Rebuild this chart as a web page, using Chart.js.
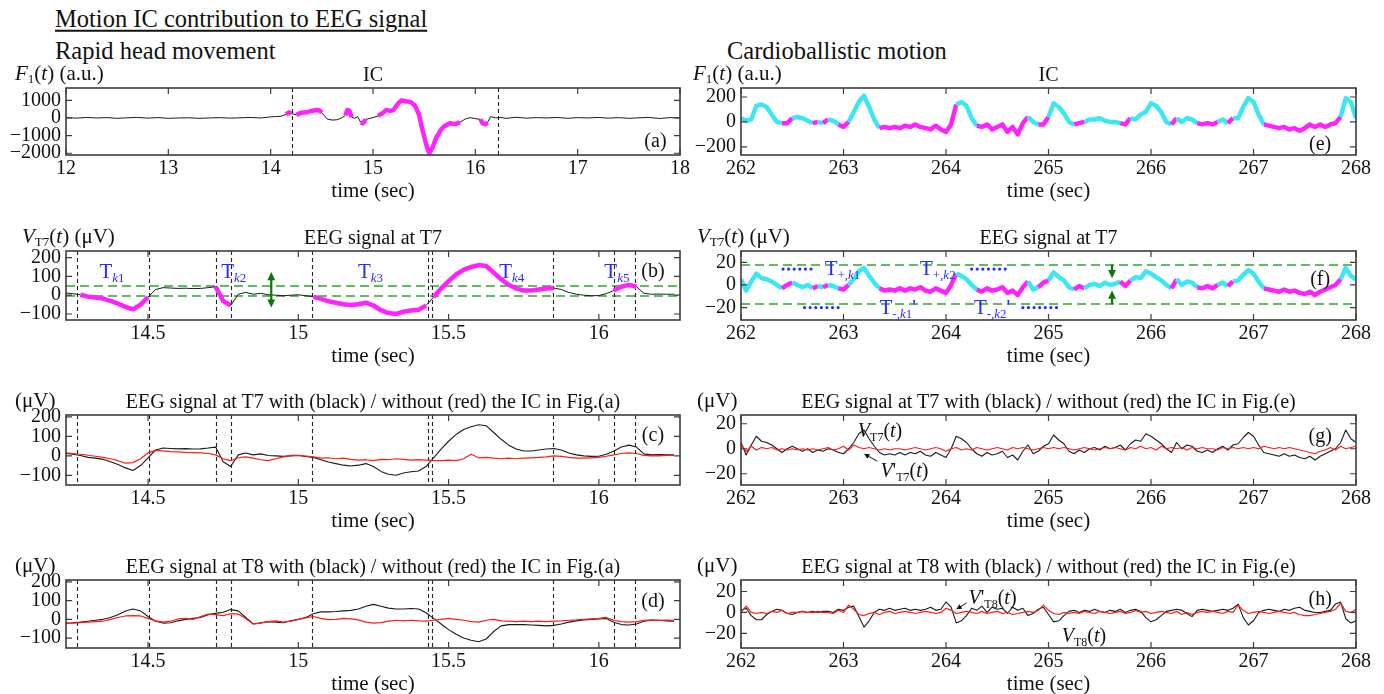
<!DOCTYPE html>
<html>
<head>
<meta charset="utf-8">
<script src="https://cdn.jsdelivr.net/npm/chart.js@4"></script>
<style>
  body { margin: 0; background: #fff; }
  #fig { position: relative; width: 1384px; height: 694px; overflow: hidden; font-family: 'Liberation Serif', 'Times New Roman', serif; color: #111; }
  .lbl { position: absolute; white-space: nowrap; line-height: 1; }
  .lbl sub { font-size: 0.62em; vertical-align: -0.3em; line-height: 0; }
  canvas { position: absolute; }
</style>
</head>
<body>
<div id="fig"></div>
<script>
// ---------- data: rapid head movement (left column) ----------
const xTicksA = [12, 13, 14, 15, 16, 17, 18];
const yTicksA = [-2000, -1000, 0, 1000];
// IC time course F1(t), panel (a)
const tA = [12.0, 12.1, 12.2, 12.3, 12.4, 12.5, 12.6, 12.7, 12.8, 12.9, 13.0, 13.1, 13.2, 13.3, 13.4, 13.5, 13.6, 13.7, 13.8, 13.9, 14.0,
  14.05, 14.1, 14.15, 14.18, 14.2, 14.25, 14.3, 14.35, 14.4, 14.45, 14.48, 14.5, 14.55, 14.6, 14.65, 14.7, 14.73, 14.75, 14.77, 14.79,
  14.82, 14.85, 14.88, 14.9, 14.93, 15.0, 15.05, 15.1, 15.13, 15.17, 15.2, 15.25, 15.28, 15.32, 15.37, 15.41, 15.45, 15.48, 15.52,
  15.55, 15.58, 15.62, 15.66, 15.7, 15.75, 15.8, 15.85, 15.9, 15.95, 16.0, 16.05, 16.07, 16.1, 16.12, 16.15, 16.2, 16.25,
  16.3, 16.4, 16.5, 16.6, 16.7, 16.8, 16.9, 17.0, 17.1, 17.2, 17.3, 17.4, 17.5, 17.6, 17.7, 17.8, 17.9, 18.0];
const icA = [20, -10, 30, 0, 20, -20, 10, 30, -10, 20, -20, 0, 10, -20, 0, 20, -10, 10, 30, 0, 60,
  80, 100, 200, 320, 250, 180, 300, 320, 400, 450, 420, 300, -50, -120, -100, 20, 150, 450, 400, 50,
  -20, 80, -250, -300, -80, 20, 120, 300, 450, 400, 450, 850, 1000, 950, 900, 700, 200, -600, -1500,
  -2000, -1700, -1100, -700, -450, -300, -350, -250, -60, 20, -40, -80, -300, -350, -250, 80, 0, 30,
  -20, 40, -10, 20, 0, 30, -20, 20, 0, 30, -10, 20, -20, 10, 30, -30, 20, 0];
const icAMarked = [[14.15, 14.2], [14.27, 14.515], [14.72, 14.79], [14.87, 14.92], [15.055, 15.43], [15.45, 15.86], [16.05, 16.12]];
const icAWindow = [14.21, 16.22];

// zoomed window, sampled every 0.025 s from 14.225 s
const winRange = [14.227, 16.27];
const win0 = 14.225, winStep = 0.025;
const xTicksWin = [14.5, 15, 15.5, 16];
const yTicksWin = [-100, 0, 100, 200];
const tkBounds = [14.264, 14.503, 14.726, 14.776, 15.045, 15.431, 15.444, 15.846, 16.049, 16.119];
const vT7 = [12, 8, 2, -8, -12, -18, -30, -45, -62, -75, -50, -10, 30, 40, 38, 36, 37, 35, 36, 40,
  45, -30, -55, 5, 15, 5, 10, 2, 0, -3, 0, 2, -3, -8, -20, -32, -40, -48, -52, -48,
  -40, -55, -80, -95, -100, -88, -82, -78, -55, -10, 35, 75, 110, 135, 150, 160, 155, 120, 85, 55,
  35, 25, 25, 30, 35, 38, 30, 15, 5, 0, -3, -2, 8, 25, 45, 55, 45, 10, 5, 6, 5, 5];
const vT7Clean = [15, 12, 8, 3, -2, -8, -15, -25, -38, -35, -15, 15, 28, 25, 22, 20, 18, 17, 15, 12,
  5, -15, -25, -10, -5, -12, -20, -25, -15, -5, 2, 3, -2, -5, -12, -10, -15, -12, -18, -22,
  -20, -25, -18, -20, -15, -18, -22, -20, -22, -25, -25, -22, -25, -15, 8, -10, -8, -12, -15, -12,
  -15, -12, -10, -8, -5, 0, -3, -8, -12, -12, -10, -8, -2, 5, 12, 15, 12, 2, 0, 0, 2, 3];
const vT8 = [-20, -18, -15, -10, -5, 0, 10, 25, 45, 55, 45, 15, -10, -20, -18, -8, 0, 5, 10, 25,
  32, 38, 52, 45, 10, -25, -18, -12, -15, -18, -8, 0, 10, 30, 40, 40, 42, 45, 48, 55,
  70, 80, 70, 60, 55, 55, 58, 55, 35, 5, -25, -55, -80, -100, -112, -120, -105, -65, -35, -28,
  -28, -28, -30, -32, -35, -32, -25, -15, -8, -3, 0, 2, 5, -15, -28, -30, -25, -10, -5, -5, -8, -10];
const vT8Clean = [-22, -20, -18, -15, -12, -10, 0, 10, 18, 20, 18, 5, -8, -15, -10, 2, 5, 0, 15, 28,
  25, 20, 30, 28, 5, -25, -20, -12, -8, -15, -10, 0, 8, 15, 5, -2, 0, 5, 2, -3,
  -15, -20, -18, -10, -5, -8, -5, -8, -10, -5, 0, 5, 0, -5, -12, -15, -5, 0, -8, -10,
  -12, -10, -12, -10, -12, -10, -8, -5, -3, 0, 2, 5, 10, -5, -12, -15, -12, -5, -3, -5, -4, -5];

// ---------- data: cardioballistic motion (right column), 262-268 s every 0.05 s ----------
const card0 = 262, cardStep = 0.05;
const xTicksCard = [262, 263, 264, 265, 266, 267, 268];
const icE = [30, 10, 20, 130, 140, 120, 60, 0, -10, -10, 30, 40, 30, 10, -10, 0, -10, 20, 10, -20,
  -40, 0, 80, 160, 210, 120, 20, -50, -40, -50, -40, -50, -30, -40, -20, -40, -50, -60, -30, -60,
  -80, -20, 140, 160, 130, 30, -30, -40, -20, -60, -40, -20, -80, -40, -100, -10, 40, 0, -20, -20,
  40, 150, 120, 70, 0, -20, -10, 0, 20, 20, 30, 10, 0, 0, -10, -20, 30, 20, 60, 80,
  150, 130, 80, 0, -20, 30, 0, 30, 20, -10, -20, -10, -20, 0, 20, -10, 30, 30, 120, 190,
  160, 60, -20, -30, -40, -50, -40, -60, -50, -70, -50, -20, -40, -20, -40, -20, -10, 40, 190, 160,
  30];
const cT7 = [5, -5, 3, 10, 6, 5, 3, 0, -3, 0, 2, 0, -2, 0, -3, -1, -2, 0, -1, -3,
  -4, 0, 5, 12, 15, 8, 2, -3, -5, -4, -5, -3, -5, -3, -4, -2, -5, -6, -3, -5,
  -7, 0, 10, 8, 5, 0, -4, -6, -3, -5, -4, -2, -7, -5, -9, -2, 3, -4, -2, 2,
  4, 11, 7, 4, -2, -4, -1, -3, 0, 1, -1, 2, 0, 1, 3, -1, 4, 7, 6, 12,
  10, 7, 4, 0, -3, 5, 0, 3, 2, -2, -3, -1, -3, 0, 2, -1, 3, 4, 9, 13,
  10, 3, -3, -4, -5, -6, -4, -6, -5, -7, -8, -6, -9, -6, -4, -2, 0, 5, 15, 8,
  5];
const cT7Clean = [3, -2, 2, -1, 1, 0, 1, -1, 0, -1, 0, -1, 0, -1, 0, -1, 0, 1, -1, 0,
  2, -1, 3, 1, 0, 1, 0, -1, 0, -1, 0, 0, -1, 0, 1, 0, -1, 0, 1, 0,
  -2, 0, 1, -1, 0, -1, 1, 0, -1, 0, 1, 0, -1, 1, 0, 1, 0, -1, 0, 1,
  0, 1, 0, 1, 0, -1, 0, 1, 0, -1, 0, 1, 0, 1, 0, -1, 1, 0, 2, 0,
  1, -1, 2, 0, 1, 0, 1, -1, 1, 0, 1, 0, 0, -1, 1, 0, 1, 0, 1, 0,
  1, 0, 2, 1, 0, 1, 0, 1, 0, -1, -2, -3, -4, -2, -1, 1, -1, 2, 0, 1,
  2];
const cT8 = [2, 4, -3, -7, -7, -2, 1, 3, 2, -1, -2, 0, 1, 0, 1, 0, 1, 1, 0, 3,
  2, 5, 6, -4, -14, -8, 0, 3, 2, 4, 2, 3, 4, 2, 3, 2, 3, 5, 2, 3,
  10, 5, -10, -8, -3, 4, 2, 6, 0, 5, 3, 4, -1, 5, 2, 4, -3, -1, 3, 5,
  -2, -9, -8, -3, 1, 2, 0, 2, 1, 3, 1, 0, 2, 1, 3, 0, 2, 3, 1, -5,
  -9, -7, -3, 1, 2, 3, 2, -1, -4, 2, 3, 2, 1, 2, 3, 2, 4, 8, -5, -12,
  -8, 0, 2, 3, 2, 1, 3, 2, 4, 5, 2, 1, 0, 0, 1, 2, 8, 10, -6, -10,
  -8];
const cT8Clean = [0, 6, 0, -1, 0, -1, 1, 0, 2, -1, 0, 0, 1, 0, 0, 1, 0, 0, -1, 2,
  0, 7, 3, -2, -3, -1, 0, -2, 0, 1, -1, 0, 1, 0, -1, 0, 1, 0, -1, 0,
  4, 2, -1, 0, 1, 0, -1, 1, -1, 0, 1, -1, 0, -2, -1, 0, 1, 0, 2, 7,
  2, -1, -2, 0, -1, 0, -1, 1, 0, -1, 1, 0, -1, 0, 1, -1, 0, 2, 0, 1,
  -1, 0, 1, 0, -1, 1, -2, 0, -2, 0, 1, 0, 1, 0, -1, 1, 0, 7, 2, -1,
  0, 1, 0, -1, 0, 1, 0, -1, 0, -2, -3, -3, -2, -1, 0, 1, 3, 9, 1, 0,
  3];

// ---------- styling ----------
const FONT = "'Liberation Serif', 'Times New Roman', serif";
const MAG = '#ff22ff', CYAN = '#3de6f3', BLACK = '#1a1a1a', RED = '#ff1a1a';
const GREEN = '#2aa82a', DKGREEN = '#0b760b', BLUE = '#2a2aff';
const PADL = 80, PADR = 20, PADT = 10, PADB = 42;
const TICK = 20;
const fig = document.getElementById('fig');

const fmt = v => (v < 0 ? '\u2212' + (-v) : String(v));
const xy = (ts, vs) => vs.map((v, i) => ({ x: ts[i], y: v }));
const grid = (t0, dt, vs) => vs.map((v, i) => ({ x: +(t0 + i * dt).toFixed(3), y: v }));
const inside = (t, wins) => wins.some(w => t >= w[0] && t <= w[1]);
const mid = ctx => (ctx.p0.parsed.x + ctx.p1.parsed.x) / 2;
const pairs = b => b.reduce((acc, v, i) => (i % 2 ? acc[acc.length - 1].push(v) : acc.push([v]), acc), []);
const tkWins = pairs(tkBounds);

function label(html, x, y, size, align) {
  const d = document.createElement('div');
  d.className = 'lbl';
  d.innerHTML = html;
  d.style.left = x + 'px';
  d.style.top = y + 'px';
  d.style.fontSize = size + 'px';
  d.style.transform = 'translate(' + (align === 'center' ? '-50%' : '0') + ', -50%)';
  fig.appendChild(d);
}

function rich(ctx, x, y, parts, size, color, align) {
  const fnt = s => (s.includes('i') ? 'italic ' : '') + (s.includes('s') ? Math.round(size * 0.62) : size) + 'px ' + FONT;
  let w = 0;
  parts.forEach(([t, s]) => { ctx.font = fnt(s); w += ctx.measureText(t).width; });
  let cx = align === 'center' ? x - w / 2 : align === 'right' ? x - w : x;
  ctx.fillStyle = color;
  ctx.textAlign = 'left';
  ctx.textBaseline = 'alphabetic';
  const base = y + size * 0.34;
  parts.forEach(([t, s]) => {
    ctx.font = fnt(s);
    ctx.fillText(t, cx, s.includes('s') ? base + size * 0.2 : base);
    cx += ctx.measureText(t).width;
  });
}

function arrow(ctx, x1, y1, x2, y2, color, lw, head) {
  const a = Math.atan2(y2 - y1, x2 - x1);
  ctx.strokeStyle = color; ctx.fillStyle = color; ctx.lineWidth = lw; ctx.setLineDash([]);
  ctx.beginPath(); ctx.moveTo(x1, y1); ctx.lineTo(x2 - Math.cos(a) * head * 0.6, y2 - Math.sin(a) * head * 0.6); ctx.stroke();
  ctx.beginPath();
  ctx.moveTo(x2, y2);
  ctx.lineTo(x2 - head * Math.cos(a - 0.45), y2 - head * Math.sin(a - 0.45));
  ctx.lineTo(x2 - head * Math.cos(a + 0.45), y2 - head * Math.sin(a + 0.45));
  ctx.closePath(); ctx.fill();
}

// frame, inward ticks, reference lines and annotations, all placed through the chart scales
function decor(o) {
  return {
    id: 'decor',
    beforeDatasetsDraw(chart) {
      const { ctx, chartArea: a, scales: { x, y } } = chart;
      ctx.save();
      ctx.beginPath(); ctx.rect(a.left, a.top, a.right - a.left, a.bottom - a.top); ctx.clip();
      (o.hlines || []).forEach(v => {
        ctx.strokeStyle = GREEN; ctx.lineWidth = 1.5; ctx.setLineDash([9, 5]);
        const py = Math.round(y.getPixelForValue(v));
        ctx.beginPath(); ctx.moveTo(a.left, py); ctx.lineTo(a.right, py); ctx.stroke();
      });
      (o.vlines || []).forEach(v => {
        ctx.strokeStyle = '#222'; ctx.setLineDash([4, 3]); ctx.lineWidth = 1.1;
        const px = Math.round(x.getPixelForValue(v)) + 0.5;
        ctx.beginPath(); ctx.moveTo(px, a.top); ctx.lineTo(px, a.bottom); ctx.stroke();
      });
      ctx.restore();
    },
    afterDraw(chart) {
      const { ctx, chartArea: a, scales: { x, y } } = chart;
      ctx.save();
      ctx.strokeStyle = '#3c3c3c'; ctx.lineWidth = 1.6; ctx.setLineDash([]);
      ctx.strokeRect(a.left, a.top, a.right - a.left, a.bottom - a.top);
      ctx.lineWidth = 1.2;
      x.ticks.forEach(t => {
        const px = x.getPixelForValue(t.value);
        ctx.beginPath(); ctx.moveTo(px, a.bottom); ctx.lineTo(px, a.bottom - 6);
        ctx.moveTo(px, a.top); ctx.lineTo(px, a.top + 6); ctx.stroke();
      });
      y.ticks.forEach(t => {
        const py = y.getPixelForValue(t.value);
        ctx.beginPath(); ctx.moveTo(a.left, py); ctx.lineTo(a.left + 6, py);
        ctx.moveTo(a.right, py); ctx.lineTo(a.right - 6, py); ctx.stroke();
      });
      (o.dots || []).forEach(d => {
        ctx.strokeStyle = BLUE; ctx.lineWidth = 3.2; ctx.lineCap = 'round'; ctx.setLineDash([0, 5.6]);
        const py = y.getPixelForValue(d.y);
        ctx.beginPath(); ctx.moveTo(x.getPixelForValue(d.x1), py); ctx.lineTo(x.getPixelForValue(d.x2), py); ctx.stroke();
      });
      ctx.lineCap = 'butt';
      (o.arrows || []).forEach(r => {
        arrow(ctx, x.getPixelForValue(r.x1), y.getPixelForValue(r.y1), x.getPixelForValue(r.x2), y.getPixelForValue(r.y2),
          r.color, r.w || 1, r.head || 7);
      });
      (o.texts || []).forEach(t => {
        rich(ctx, x.getPixelForValue(t.x), y.getPixelForValue(t.y), t.parts, t.size || 20, t.color || '#111', t.align || 'left');
      });
      if (o.letter) {
        rich(ctx, x.getPixelForValue(o.letter.x), y.getPixelForValue(o.letter.y), [[o.letter.t, 'n']], 20, '#111', 'center');
      }
      ctx.restore();
    }
  };
}

function panel(p) {
  const f = p.frame;
  const w = f.r - f.l + PADL + PADR, h = f.b - f.t + PADT + PADB;
  const c = document.createElement('canvas');
  c.width = w; c.height = h;
  c.style.left = (f.l - PADL) + 'px'; c.style.top = (f.t - PADT) + 'px';
  c.style.width = w + 'px'; c.style.height = h + 'px';
  fig.appendChild(c);

  const cx = (f.l + f.r) / 2;
  label(p.unit, p.unitX, f.t - 15, 21, 'left');
  label(p.title, cx, f.t - 14, 20, 'center');
  label('time (sec)', cx, f.b + 35, 21, 'center');

  const tickFont = { family: FONT, size: TICK };
  new Chart(c, {
    type: 'line',
    data: { datasets: p.datasets },
    options: {
      responsive: false, animation: false, devicePixelRatio: 1,
      layout: { padding: { top: PADT, right: PADR, left: 0, bottom: 0 } },
      plugins: { legend: { display: false }, tooltip: { enabled: false } },
      elements: { point: { radius: 0 }, line: { tension: 0, borderJoinStyle: 'round' } },
      scales: {
        x: {
          type: 'linear', min: p.xr[0], max: p.xr[1],
          grid: { display: false, drawTicks: false }, border: { display: false },
          ticks: { font: tickFont, color: '#111', padding: 2, maxRotation: 0, autoSkip: false, callback: v => fmt(v) },
          afterBuildTicks: s => { s.ticks = p.xt.map(v => ({ value: v })); },
          afterFit: s => { s.height = PADB; s.paddingLeft = 0; s.paddingRight = 0; }
        },
        y: {
          type: 'linear', min: p.yr[0], max: p.yr[1],
          grid: { display: false, drawTicks: false }, border: { display: false },
          ticks: { font: tickFont, color: '#111', padding: 5, autoSkip: false, callback: v => fmt(v) },
          afterBuildTicks: s => { s.ticks = p.yt.map(v => ({ value: v })); },
          afterFit: s => { s.width = PADL; s.paddingTop = 0; s.paddingBottom = 0; }
        }
      }
    },
    plugins: [decor(p.decor || {})]
  });
}

// ---------- headings ----------
label('<span style="text-decoration:underline;text-underline-offset:3px">Motion IC contribution to EEG signal</span>', 55, 19, 24.5, 'left');
label('Rapid head movement', 55, 51, 24.5, 'left');
label('Cardioballistic motion', 727, 51, 24.5, 'left');

const F1 = '<i>F</i><sub>1</sub>(<i>t</i>) (a.u.)';
const VT7 = '<i>V</i><sub>T7</sub>(<i>t</i>) (\u03bcV)';
const UV = '(\u03bcV)';
const tk = n => [['T', 'n'], ['k', 'si'], [String(n), 's']];

// ---------- left column ----------
panel({
  frame: { l: 66, r: 680, t: 88, b: 155 }, unit: F1, unitX: 15, title: 'IC',
  xr: [12, 18], yr: [-2100, 1700], xt: xTicksA, yt: yTicksA,
  datasets: [{
    data: xy(tA, icA), borderColor: BLACK, borderWidth: 1,
    segment: {
      borderColor: ctx => (inside(mid(ctx), icAMarked) ? MAG : BLACK),
      borderWidth: ctx => (inside(mid(ctx), icAMarked) ? 4.5 : 1)
    }
  }],
  decor: { vlines: icAWindow, letter: { t: '(a)', x: 17.76, y: -1250 } }
});

panel({
  frame: { l: 66, r: 680, t: 251, b: 320 }, unit: VT7, unitX: 22, title: 'EEG signal at T7',
  xr: winRange, yr: [-132, 235], xt: xTicksWin, yt: yTicksWin,
  datasets: [{
    data: grid(win0, winStep, vT7), borderColor: BLACK, borderWidth: 1,
    segment: {
      borderColor: ctx => (inside(mid(ctx), tkWins) ? MAG : BLACK),
      borderWidth: ctx => (inside(mid(ctx), tkWins) ? 4.5 : 1)
    }
  }],
  decor: {
    vlines: tkBounds, hlines: [48, -2],
    texts: [
      { x: 14.38, y: 132, parts: tk(1), size: 21, color: BLUE, align: 'center' },
      { x: 14.785, y: 132, parts: tk(2), size: 21, color: BLUE, align: 'center' },
      { x: 15.24, y: 132, parts: tk(3), size: 21, color: BLUE, align: 'center' },
      { x: 15.71, y: 132, parts: tk(4), size: 21, color: BLUE, align: 'center' },
      { x: 16.06, y: 132, parts: tk(5), size: 21, color: BLUE, align: 'center' }
    ],
    arrows: [
      { x1: 14.91, y1: 28, x2: 14.91, y2: 123, color: DKGREEN, w: 2.2, head: 9 },
      { x1: 14.91, y1: 28, x2: 14.91, y2: -66, color: DKGREEN, w: 2.2, head: 9 }
    ],
    letter: { t: '(b)', x: 16.18, y: 132 }
  }
});

panel({
  frame: { l: 66, r: 680, t: 415, b: 485 }, unit: UV, unitX: 15,
  title: 'EEG signal at T7 with (black) / without (red) the IC in Fig.(a)',
  xr: winRange, yr: [-150, 210], xt: xTicksWin, yt: yTicksWin,
  datasets: [
    { data: grid(win0, winStep, vT7Clean), borderColor: RED, borderWidth: 1.2 },
    { data: grid(win0, winStep, vT7), borderColor: BLACK, borderWidth: 1.1 }
  ],
  decor: { vlines: tkBounds, letter: { t: '(c)', x: 16.18, y: 110 } }
});

panel({
  frame: { l: 66, r: 680, t: 580, b: 648 }, unit: UV, unitX: 15,
  title: 'EEG signal at T8 with (black) / without (red) the IC in Fig.(a)',
  xr: winRange, yr: [-153, 210], xt: xTicksWin, yt: yTicksWin,
  datasets: [
    { data: grid(win0, winStep, vT8Clean), borderColor: RED, borderWidth: 1.2 },
    { data: grid(win0, winStep, vT8), borderColor: BLACK, borderWidth: 1.1 }
  ],
  decor: { vlines: tkBounds, letter: { t: '(d)', x: 16.18, y: 100 } }
});

// ---------- right column ----------
const cardColor = ctx => (icE[ctx.p0DataIndex] >= 0 ? CYAN : MAG);

panel({
  frame: { l: 741, r: 1356, t: 88, b: 155 }, unit: F1, unitX: 693, title: 'IC',
  xr: [262, 268], yr: [-265, 272], xt: xTicksCard, yt: [-200, 0, 200],
  datasets: [{
    data: grid(card0, cardStep, icE), borderColor: CYAN, borderWidth: 4.5,
    segment: { borderColor: cardColor }
  }],
  decor: { letter: { t: '(e)', x: 267.65, y: -170 } }
});

panel({
  frame: { l: 741, r: 1356, t: 251, b: 320 }, unit: VT7, unitX: 697, title: 'EEG signal at T7',
  xr: [262, 268], yr: [-31, 30], xt: xTicksCard, yt: [-20, 0, 20],
  datasets: [{
    data: grid(card0, cardStep, cT7), borderColor: CYAN, borderWidth: 4.5,
    segment: { borderColor: cardColor }
  }],
  decor: {
    hlines: [18, -17],
    dots: [{ x1: 262.41, x2: 262.72, y: 14 }, { x1: 264.25, x2: 264.62, y: 14 },
           { x1: 262.62, x2: 262.95, y: -20 }, { x1: 264.75, x2: 265.11, y: -20 }],
    texts: [
      { x: 262.99, y: 15, parts: [['T', 'n'], ['+,', 's'], ['k', 'si'], ['1', 's']], size: 21, color: BLUE, align: 'center' },
      { x: 263.92, y: 15, parts: [['T', 'n'], ['+,', 's'], ['k', 'si'], ['2', 's']], size: 21, color: BLUE, align: 'center' },
      { x: 263.53, y: -19, parts: [['T', 'n'], ['-,', 's'], ['k', 'si'], ['1', 's'], ['\'', 'n']], size: 21, color: BLUE, align: 'center' },
      { x: 264.45, y: -19, parts: [['T', 'n'], ['-,', 's'], ['k', 'si'], ['2', 's'], ['\'', 'n']], size: 21, color: BLUE, align: 'center' }
    ],
    arrows: [
      { x1: 265.62, y1: 18, x2: 265.62, y2: 6, color: DKGREEN, w: 2.2, head: 9 },
      { x1: 265.62, y1: -17, x2: 265.62, y2: -5, color: DKGREEN, w: 2.2, head: 9 }
    ],
    letter: { t: '(f)', x: 267.65, y: 6 }
  }
});

panel({
  frame: { l: 741, r: 1356, t: 415, b: 485 }, unit: UV, unitX: 697,
  title: 'EEG signal at T7 with (black) / without (red) the IC in Fig.(e)',
  xr: [262, 268], yr: [-29, 27], xt: xTicksCard, yt: [-20, 0, 20],
  datasets: [
    { data: grid(card0, cardStep, cT7Clean), borderColor: RED, borderWidth: 1.2 },
    { data: grid(card0, cardStep, cT7), borderColor: BLACK, borderWidth: 1.1 }
  ],
  decor: {
    texts: [
      { x: 263.14, y: 15, parts: [['V', 'i'], ['T7', 's'], ['(', 'n'], ['t', 'i'], [')', 'n']] },
      { x: 263.36, y: -17, parts: [['V', 'i'], ['\'', 'n'], ['T7', 's'], ['(', 'n'], ['t', 'i'], [')', 'n']] }
    ],
    arrows: [{ x1: 263.33, y1: -10, x2: 263.2, y2: -4, color: '#111', w: 1, head: 6 }],
    letter: { t: '(g)', x: 267.65, y: 11 }
  }
});

panel({
  frame: { l: 741, r: 1356, t: 580, b: 648 }, unit: UV, unitX: 697,
  title: 'EEG signal at T8 with (black) / without (red) the IC in Fig.(e)',
  xr: [262, 268], yr: [-34, 31], xt: xTicksCard, yt: [-20, 0, 20],
  datasets: [
    { data: grid(card0, cardStep, cT8Clean), borderColor: RED, borderWidth: 1.2 },
    { data: grid(card0, cardStep, cT8), borderColor: BLACK, borderWidth: 1.1 }
  ],
  decor: {
    texts: [
      { x: 264.22, y: 15, parts: [['V', 'i'], ['\'', 'n'], ['T8', 's'], ['(', 'n'], ['t', 'i'], [')', 'n']] },
      { x: 265.13, y: -22, parts: [['V', 'i'], ['T8', 's'], ['(', 'n'], ['t', 'i'], [')', 'n']] }
    ],
    arrows: [{ x1: 264.2, y1: 9, x2: 264.1, y2: 3, color: '#111', w: 1, head: 6 }],
    letter: { t: '(h)', x: 267.65, y: 14 }
  }
});
</script>
</body>
</html>
